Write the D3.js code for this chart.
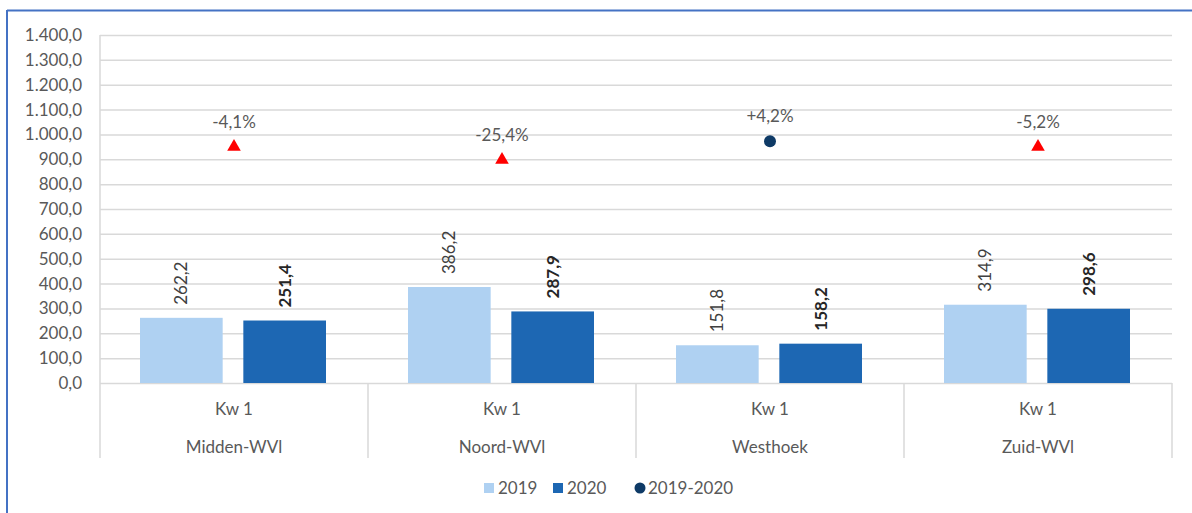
<!DOCTYPE html>
<html>
<head>
<meta charset="utf-8">
<script src="https://cdn.jsdelivr.net/npm/d3@7"></script>
<style>
  body { margin: 0; background: #fff; }
  svg { font-family: Lato, "Open Sans", sans-serif; }
</style>
</head>
<body>
<script>
/* ---------------------------- */
/* DATA                         */
/* ---------------------------- */

const regions = ["Midden-WVl", "Noord-WVl", "Westhoek", "Zuid-WVl"];
const quarter = "Kw 1";
const series = ["2019", "2020"];
const values2019 = [262.2, 386.2, 151.8, 314.9];
const values2020 = [251.4, 287.9, 158.2, 298.6];
// position of the change marker + its label
const changePos = [950, 898, 973, 950];
const changeLabels = ["-4,1%", "-25,4%", "+4,2%", "-5,2%"];
const yTicks = [0, 100, 200, 300, 400, 500, 600, 700, 800, 900, 1000, 1100, 1200, 1300, 1400];

/* ---------------------------- */
/* CANVAS                       */
/* ---------------------------- */

const w = 1192, h = 513;
const plot = {left: 100, right: 1172, top: 35, bottom: 383};
const fs = "17px";

const colors = {"2019": "#afd1f2", "2020": "#1d67b3"};
const navy = "#0e3a66";
const grid = "#d9d9d9";
const txt = "#595959";

const nl = d3.formatLocale({decimal: ",", thousands: ".", grouping: [3], currency: ["€", ""]});
const fmt = nl.format(",.1f");

let svg = d3.select("body").append("svg")
    .attr("width", w)
    .attr("height", h);

// blue frame (top + left only visible)
svg.append("line").attr("x1", 7).attr("x2", w).attr("y1", 10.5).attr("y2", 10.5)
    .attr("stroke", "#4472c4").attr("stroke-width", 2);
svg.append("line").attr("x1", 7).attr("x2", 7).attr("y1", 10).attr("y2", h)
    .attr("stroke", "#4472c4").attr("stroke-width", 2);

// scales
let y = d3.scaleLinear().domain([0, 1400]).range([plot.bottom, plot.top]);
let x0 = d3.scaleBand().domain(regions).range([plot.left, plot.right]);
let x1 = d3.scaleBand().domain(series).range([40, 226]).paddingInner(0.2);

// gridlines + y labels
let yAxis = svg.append("g")
    .attr("transform", "translate(" + plot.left + ",0)")
    .call(d3.axisLeft(y).tickValues(yTicks).tickFormat(fmt).tickSize(-(plot.right - plot.left)).tickPadding(18));
yAxis.select(".domain").remove();
yAxis.selectAll(".tick line").attr("stroke", grid).attr("stroke-width", 1.5);
yAxis.selectAll(".tick text").attr("fill", txt).style("font-size", fs).style("font-family", "Lato, sans-serif");

// left axis line
svg.append("line").attr("x1", plot.left).attr("x2", plot.left)
    .attr("y1", plot.top).attr("y2", plot.bottom)
    .attr("stroke", grid).attr("stroke-width", 1.5);

// category axis (two-level)
let bounds = regions.map(r => x0(r)).concat([plot.right]);
svg.selectAll(".divider").data(bounds).enter().append("line")
    .attr("class", "divider")
    .attr("x1", d => d).attr("x2", d => d)
    .attr("y1", plot.bottom).attr("y2", 458)
    .attr("stroke", grid).attr("stroke-width", 1.5);

svg.selectAll(".kw").data(regions).enter().append("text")
    .attr("x", d => x0(d) + x0.bandwidth() / 2)
    .attr("y", 415)
    .attr("text-anchor", "middle")
    .attr("fill", txt).style("font-size", fs)
    .text(quarter);
svg.selectAll(".reg").data(regions).enter().append("text")
    .attr("x", d => x0(d) + x0.bandwidth() / 2)
    .attr("y", 453)
    .attr("text-anchor", "middle")
    .attr("fill", txt).style("font-size", fs)
    .text(d => d);

// bars
let rows = regions.map((r, i) => ({region: r, vals: [
    {s: "2019", v: values2019[i]},
    {s: "2020", v: values2020[i]}
]}));

let groups = svg.selectAll(".grp").data(rows).enter().append("g")
    .attr("transform", d => "translate(" + x0(d.region) + ",0)");

groups.selectAll("rect").data(d => d.vals).enter().append("rect")
    .attr("x", d => x1(d.s))
    .attr("y", d => y(d.v))
    .attr("width", x1.bandwidth())
    .attr("height", d => y(0) - y(d.v))
    .attr("fill", d => colors[d.s]);

// rotated value labels
groups.selectAll(".lbl").data(d => d.vals).enter().append("text")
    .attr("transform", d => "translate(" + (x1(d.s) + x1.bandwidth() / 2 + 6) + "," + (y(d.v) - 13) + ") rotate(-90)")
    .attr("text-anchor", "start")
    .attr("fill", d => d.s === "2020" ? "#262626" : "#404040")
    .style("font-weight", d => d.s === "2020" ? "bold" : "normal")
    .style("font-size", fs)
    .text(d => fmt(d.v));

// change markers
regions.forEach((r, i) => {
    let cx = x0(r) + x0.bandwidth() / 2;
    let cy = y(changePos[i]);
    if (changeLabels[i].startsWith("-")) {
        svg.append("path")
            .attr("d", d3.symbol().type(d3.symbolTriangle).size(80)())
            .attr("transform", "translate(" + cx + "," + cy + ")")
            .attr("fill", "#ff0000");
    } else {
        svg.append("circle").attr("cx", cx).attr("cy", cy).attr("r", 6).attr("fill", navy);
    }
    svg.append("text")
        .attr("x", cx).attr("y", cy - 19)
        .attr("text-anchor", "middle")
        .attr("fill", txt).style("font-size", fs)
        .text(changeLabels[i]);
});

// legend
let legend = svg.append("g").attr("transform", "translate(0,488)");
legend.append("rect").attr("x", 484).attr("y", -5).attr("width", 10).attr("height", 10).attr("fill", colors["2019"]);
legend.append("text").attr("x", 498).attr("y", 6).attr("fill", txt).style("font-size", fs).text("2019");
legend.append("rect").attr("x", 553).attr("y", -5).attr("width", 10).attr("height", 10).attr("fill", colors["2020"]);
legend.append("text").attr("x", 567).attr("y", 6).attr("fill", txt).style("font-size", fs).text("2020");
legend.append("circle").attr("cx", 640).attr("cy", 0).attr("r", 5.5).attr("fill", navy);
legend.append("text").attr("x", 648).attr("y", 6).attr("fill", txt).style("font-size", fs).text("2019-2020");
</script>
</body>
</html>
